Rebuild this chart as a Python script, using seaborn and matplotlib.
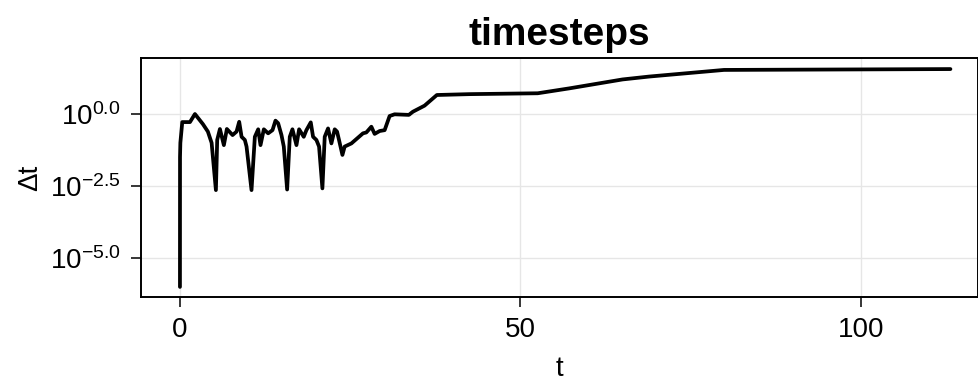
import numpy as np
import pandas as pd
import matplotlib
matplotlib.use("Agg")
import matplotlib.pyplot as plt
import matplotlib.ticker as mticker
import seaborn as sns

# Simulation time and log10 of the accepted step size
t = [0.0, 0.01, 0.06, 0.34, 1.47, 2.2, 3.37, 4.1, 4.65, 5.28,
     5.47, 5.87, 6.45, 6.89, 7.73, 8.31, 8.7, 9.05, 9.53, 9.78, 10.51,
     11.0, 11.49, 11.83, 12.32, 12.95, 13.59, 14.03, 14.42, 14.91, 15.25, 15.74,
     16.13, 16.52, 17.11, 17.5, 18.18, 18.57, 19.21, 19.55, 20.04, 20.43, 20.92,
     21.26, 21.75, 22.24, 22.73, 23.07, 23.36, 23.86,
     24.19, 25.18, 26.88, 27.37, 28.11, 28.59, 29.33, 30.06, 30.79, 31.52,
     33.62, 34.21, 35.92, 37.73, 42.52, 52.54, 57.18, 65.0, 68.9, 79.9, 113.15]
log_dt = [-6.0, -1.49, -1.0, -0.28, -0.28, 0.0, -0.35, -0.61, -1.0, -2.64,
          -0.9, -0.52, -1.08, -0.52, -0.73, -0.61, -0.27, -0.79, -0.9, -1.13, -2.64,
          -0.79, -0.53, -1.08, -0.53, -0.67, -0.56, -0.23, -0.32, -0.73, -1.13, -2.62,
          -0.79, -0.53, -1.08, -0.53, -0.79, -0.56, -0.29, -0.79, -0.9, -1.13, -2.58,
          -0.79, -0.5, -1.02, -0.53, -0.61, -0.9, -1.42,
          -1.13, -1.02, -0.67, -0.64, -0.44, -0.69, -0.59, -0.56, -0.07, -0.01,
          -0.03, 0.08, 0.29, 0.66, 0.69, 0.72, 0.89, 1.2, 1.3, 1.53, 1.56]

x_ticks = [0, 50, 100]
y_tick_exps = [-5.0, -2.5, 0.0]

df = pd.DataFrame({"t": t, "dt": 10.0 ** np.array(log_dt)})

sns.set_theme(style="ticks")
plt.rcParams.update({
    "font.family": ["Liberation Sans", "DejaVu Sans"],
    "mathtext.fontset": "custom",
    "mathtext.rm": "Liberation Sans",
    "mathtext.it": "Liberation Sans",
    "mathtext.default": "regular",
    "text.color": "black",
    "axes.labelcolor": "black",
    "axes.edgecolor": "black",
    "xtick.color": "black",
    "ytick.color": "black",
    "xtick.bottom": True,
    "ytick.left": True,
    "xtick.direction": "out",
    "ytick.direction": "out",
    "xtick.major.size": 7.5,
    "ytick.major.size": 7.5,
    "xtick.major.width": 1.1,
    "ytick.major.width": 1.1,
})

fig = plt.figure(figsize=(9.79, 3.81), dpi=100)
ax = fig.add_axes([141 / 979, 1 - 297 / 381, (978 - 141) / 979, (297 - 58) / 381])

sns.lineplot(data=df, x="t", y="dt", ax=ax, color="black", linewidth=2.7,
             sort=False, estimator=None)

ax.set_yscale("log")
ax.set_xlim(-5.72, 117.2)
ax.set_ylim(10 ** -6.35, 10 ** 1.944)

ax.xaxis.set_major_locator(mticker.FixedLocator(x_ticks))
ax.yaxis.set_major_locator(mticker.FixedLocator([10 ** e for e in y_tick_exps]))
ax.yaxis.set_minor_locator(mticker.NullLocator())
ax.xaxis.set_minor_locator(mticker.NullLocator())
ax.yaxis.set_major_formatter(mticker.FuncFormatter(
    lambda v, _: "$10^{%.1f}$" % np.log10(v)))

ax.grid(True, color="#e6e6e6", linewidth=1.0)
ax.set_axisbelow(True)
for s in ax.spines.values():
    s.set_visible(True)
    s.set_color("black")
    s.set_linewidth(1.4)

ax.tick_params(axis="both", which="major", direction="out", length=7.5, width=1.1,
               color="black", labelcolor="black", labelsize=20, pad=7,
               left=True, bottom=True, right=False, top=False)

ax.set_xlabel("t", fontsize=20, labelpad=9, color="black")
ax.set_ylabel("Δt", fontsize=20, labelpad=5, color="black")
ax.set_title("timesteps", fontsize=28, fontweight="bold", pad=9, color="black")

fig.savefig("out.png", dpi=100)
